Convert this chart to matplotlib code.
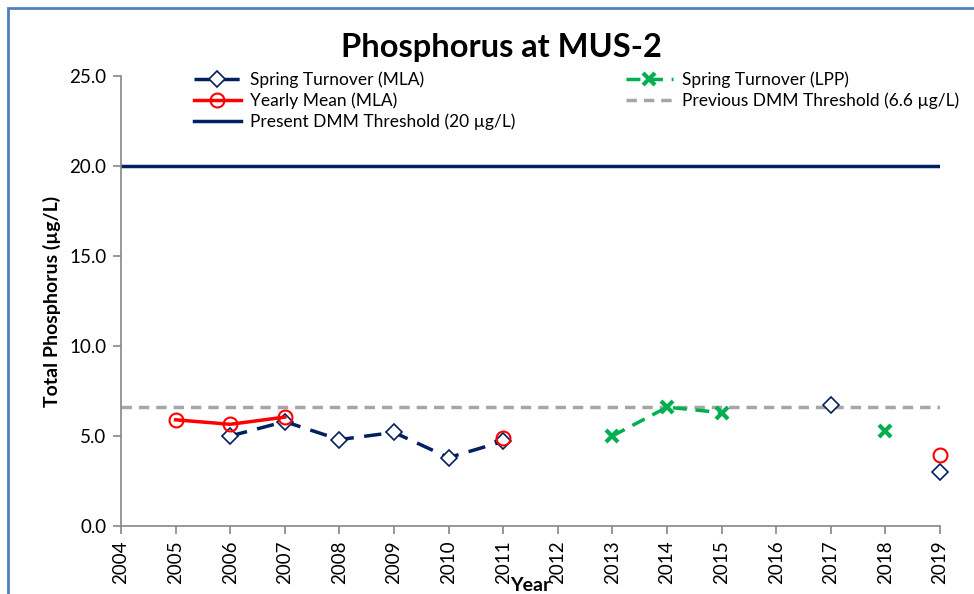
import numpy as np
import matplotlib.pyplot as plt
from matplotlib.patches import Rectangle

nan = np.nan
years = list(range(2004, 2020))
spring_mla = [nan, nan, 5.0, 5.8, 4.8, 5.2, 3.8, 4.7, nan, nan, nan, nan, nan, 6.7, nan, 3.0]
yearly_mean = [nan, 5.9, 5.65, 6.05, nan, nan, nan, 4.9, nan, nan, nan, nan, nan, nan, nan, 3.95]
spring_lpp = [nan, nan, nan, nan, nan, nan, nan, nan, nan, 5.0, 6.6, 6.3, nan, nan, 5.3, nan]
present_dmm = 20.0
previous_dmm = 6.6

plt.rcParams['font.family'] = ['Lato', 'DejaVu Sans']

fig = plt.figure(figsize=(9.74, 5.94), dpi=100)
# excel chart frame
fig.patches.append(Rectangle((8 / 974, -0.1), 1.2, 1 - 8 / 594 + 0.1, transform=fig.transFigure,
                             fill=False, edgecolor='#4F81BD', linewidth=2))
ax = fig.add_axes([121 / 974, 1 - 526 / 594, (940 - 121) / 974, (526 - 76) / 594])

ax.plot(years, spring_mla, color='#002060', linestyle=(0, (5, 3)), linewidth=2.5,
        marker='D', markersize=8, markerfacecolor='white', markeredgecolor='#002060',
        markeredgewidth=1.2, label='Spring Turnover (MLA)', clip_on=False, zorder=4)
ax.plot(years, yearly_mean, color='#FF0000', linewidth=2.5,
        marker='o', markersize=10, markerfacecolor='none', markeredgecolor='#FF0000',
        markeredgewidth=1.5, label='Yearly Mean (MLA)', clip_on=False, zorder=5)
ax.axhline(present_dmm, color='#002060', linewidth=2.5, label='Present DMM Threshold (20 µg/L)')
ax.plot(years, spring_lpp, color='#00B050', linestyle=(0, (4, 2.5)), linewidth=2.5,
        marker='x', markersize=9, markeredgewidth=3, label='Spring Turnover (LPP)', zorder=4)
ax.axhline(previous_dmm, color='#A6A6A6', linestyle=(0, (3, 2)), linewidth=2.5,
           label='Previous DMM Threshold (6.6 µg/L)', zorder=1)

ax.set_xlim(2004, 2019)
ax.set_ylim(0, 25)
ax.set_xticks(years)
ax.set_xticklabels([str(y) for y in years], rotation=90, fontsize=13.5)
ax.set_yticks(np.arange(0, 26, 5))
ax.set_yticklabels([f'{v:.1f}' for v in np.arange(0, 26, 5)], fontsize=13.5)
for s in ['top', 'right']:
    ax.spines[s].set_visible(False)
for s in ['left', 'bottom']:
    ax.spines[s].set_color('#868686')
    ax.spines[s].set_linewidth(1.2)
ax.tick_params(color='#868686', length=6, width=1.2, pad=4.5)

ax.set_ylabel('Total Phosphorus (µg/L)', fontsize=14, fontweight='bold')
ax.yaxis.set_label_coords(-0.0735, 0.5)
ax.set_xlabel('Year', fontsize=14, fontweight='bold')
ax.xaxis.set_label_coords(0.4994, -0.114)
fig.text(0.515, 1 - 48 / 594, 'Phosphorus at MUS-2', ha='center', va='center',
         fontsize=23.5, fontweight='bold')

ax.legend(ncol=2, loc='upper left', bbox_to_anchor=(0.07, 1.045), frameon=False,
          fontsize=12.5, handlelength=2.7, handletextpad=0.5, columnspacing=6.4, labelspacing=0.25)

fig.savefig('out.png', dpi=100)
